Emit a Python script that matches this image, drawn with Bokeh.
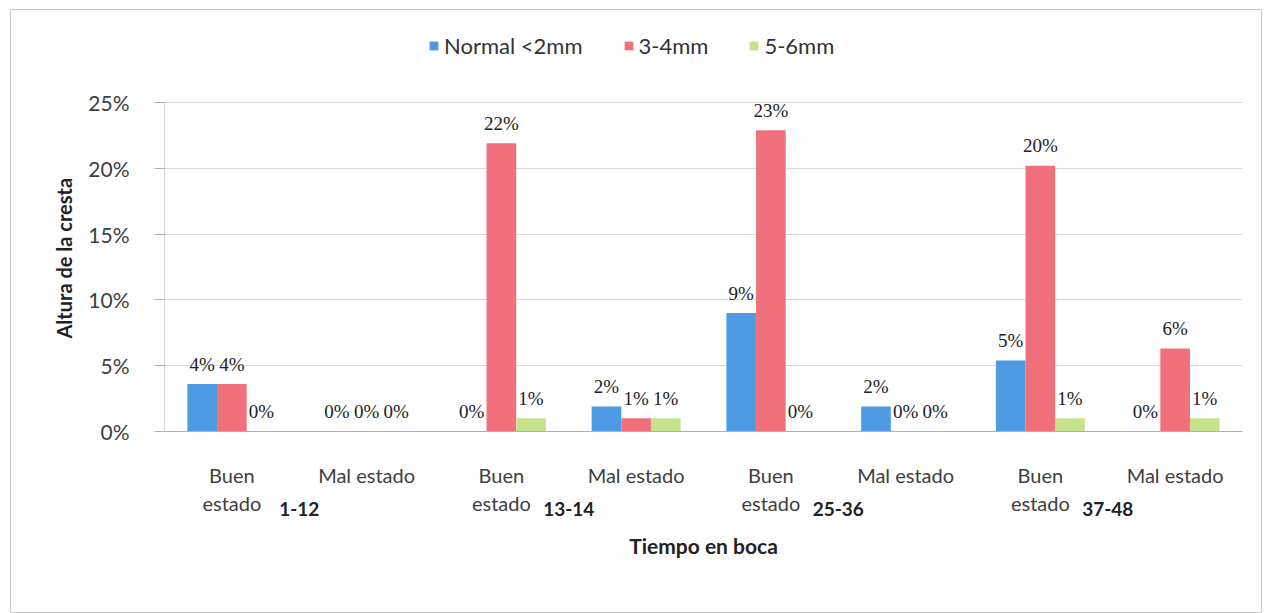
from bokeh.plotting import figure
from bokeh.models import (FactorRange, ColumnDataSource, Legend, LegendItem, CategoricalAxis,
                          NumeralTickFormatter, LabelSet, Range1d, FixedTicker, Title)
from bokeh.transform import dodge
from bokeh.core.properties import value
from bokeh.embed import file_html
from bokeh.resources import INLINE

periods = ["1-12", "13-14", "25-36", "37-48"]
states = ["Buen", "Mal estado"]          # first line of the category labels
states_line2 = ["estado", "\u00a0"]       # second line of the category labels
series = ["Normal <2mm", "3-4mm", "5-6mm"]
normal = [0.036, 0.0, 0.0, 0.019, 0.090, 0.019, 0.054, 0.0]
mm34 = [0.036, 0.0, 0.219, 0.010, 0.229, 0.0, 0.202, 0.063]
mm56 = [0.0, 0.0, 0.010, 0.010, 0.0, 0.0, 0.010, 0.010]
y_ticks = [0.0, 0.05, 0.10, 0.15, 0.20, 0.25]
colors = ["#4f9be3", "#f0707c", "#c6e38c"]

factors = [(pr, st) for pr in periods for st in states]
factors2 = [(pr, st) for pr in periods for st in states_line2]

src = ColumnDataSource(dict(
    x=factors,
    normal=normal, mm34=mm34, mm56=mm56,
    l_normal=["{:.0f}%".format(v * 100) for v in normal],
    l_mm34=["{:.0f}%".format(v * 100) for v in mm34],
    l_mm56=["{:.0f}%".format(v * 100) for v in mm56],
))

# frame extends above the 25% line to host the legend (frame 28..431 px, 25% at 102 px)
y_top = max(y_ticks) * (431 - 28) / (431 - 102)
pads = dict(factor_padding=0, subgroup_padding=0, group_padding=0, range_padding=0)
xr = FactorRange(*factors, **pads)
p = figure(x_range=xr, y_range=Range1d(0, y_top), width=1252, height=604,
           output_backend="svg", toolbar_location=None)
p.extra_x_ranges = {"line2": FactorRange(*factors2, **pads),
                    "grp": FactorRange(*periods, factor_padding=0, range_padding=0)}
p.margin = (9, 0, 0, 10)
p.min_border_left = 153
p.min_border_right = 21
p.min_border_top = 18
p.min_border_bottom = 183
p.outline_line_color = None
p.border_fill_color = "white"
p.styles = {"border": "1px solid #c8c8c8"}

font = "Lato"
cols = ["normal", "mm34", "mm56"]
offs = [-0.22, 0.0, 0.22]
items = []
for c, off, col, name in zip(cols, offs, colors, series):
    r = p.vbar(x=dodge("x", off, range=p.x_range), top=c, width=0.22, source=src,
               fill_color=col, line_color=None)
    items.append(LegendItem(label=name, renderers=[r]))
    lab = LabelSet(x=dodge("x", off, range=p.x_range), y=c, text="l_" + c, source=src,
                   text_align="center", text_baseline="middle", y_offset=20,
                   text_font=value("Liberation Serif"), text_font_size="19px",
                   text_color="#222222")
    p.add_layout(lab)

# y axis line only up to the last tick
p.segment(x0=[0], x1=[0], y0=[min(y_ticks)], y1=[max(y_ticks)], line_color="#b0b0b0", line_width=1)

leg = Legend(items=items, orientation="horizontal", location=(264, 372),
             label_text_font=font, label_text_font_size="22px",
             label_text_color="#333333", glyph_width=11, glyph_height=11,
             spacing=40, border_line_color=None, background_fill_alpha=0,
             padding=0, margin=0)
p.add_layout(leg)

p.yaxis.ticker = FixedTicker(ticks=y_ticks)
p.yaxis.formatter = NumeralTickFormatter(format="0%")
p.yaxis.major_label_text_font = font
p.yaxis.major_label_text_font_size = "21px"
p.yaxis.major_label_text_color = "#404040"
p.yaxis.major_label_standoff = 25
p.yaxis.axis_line_color = None
p.yaxis.major_tick_line_color = "#b0b0b0"
p.yaxis.major_tick_out = 10
p.yaxis.major_tick_in = 0
p.yaxis.minor_tick_line_color = None

ytitle = Title(text="Altura de la cresta", align="left", offset=93, standoff=20,
               text_font=font, text_font_style="bold", text_font_size="20px",
               text_color="#222222")
p.add_layout(ytitle, "left")


def style_sub(ax, standoff):
    ax.major_label_text_font = font
    ax.major_label_text_font_size = "20px"
    ax.major_label_text_color = "#404040"
    ax.major_label_standoff = standoff
    ax.group_text_font_size = "0px"
    ax.group_text_alpha = 0
    ax.major_tick_line_color = None
    ax.separator_line_color = None


xa = p.xaxis[0]
style_sub(xa, 25)
xa.axis_line_color = "#b0b0b0"

xb = CategoricalAxis(x_range_name="line2")
style_sub(xb, -5)
xb.axis_line_color = None
p.add_layout(xb, "below")

ga = CategoricalAxis(x_range_name="grp")
ga.major_label_text_font = font
ga.major_label_text_font_style = "bold"
ga.major_label_text_font_size = "19px"
ga.major_label_text_color = "#222222"
ga.major_label_standoff = -22
ga.axis_line_color = None
ga.major_tick_line_color = None
ga.axis_label = "Tiempo en boca"
ga.axis_label_text_font = font
ga.axis_label_text_font_style = "bold"
ga.axis_label_text_font_size = "21px"
ga.axis_label_text_color = "#222222"
ga.axis_label_standoff = 14
p.add_layout(ga, "below")

p.xgrid.grid_line_color = None
p.ygrid.grid_line_color = "#d9d9d9"

open("out.html", "w").write(file_html(p, INLINE))
